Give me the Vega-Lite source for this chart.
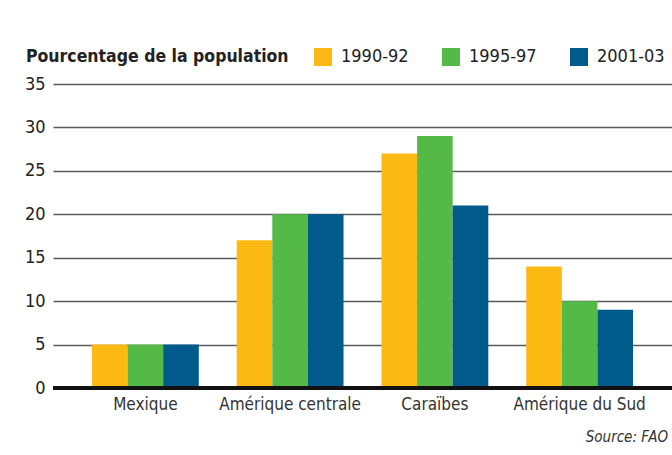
{
  "$schema": "https://vega.github.io/schema/vega-lite/v6.json",
  "autosize": {"type": "none"},
  "width": 619,
  "height": 304,
  "padding": {"left": 53, "top": 84, "right": 0, "bottom": 67},
  "background": "white",
  "config": {
    "font": "DejaVu Sans Condensed",
    "view": {"stroke": null}
  },
  "title": {
    "text": "Source: FAO",
    "orient": "bottom",
    "anchor": "end",
    "frame": "group",
    "fontSize": 15,
    "fontStyle": "italic",
    "fontWeight": "normal",
    "color": "#333333",
    "offset": 18,
    "dx": -4
  },
  "data": {
    "values": [
      {"region": "Mexique", "periode": "1990-92", "pct": 5},
      {"region": "Mexique", "periode": "1995-97", "pct": 5},
      {"region": "Mexique", "periode": "2001-03", "pct": 5},
      {"region": "Amérique centrale", "periode": "1990-92", "pct": 17},
      {"region": "Amérique centrale", "periode": "1995-97", "pct": 20},
      {"region": "Amérique centrale", "periode": "2001-03", "pct": 20},
      {"region": "Caraïbes", "periode": "1990-92", "pct": 27},
      {"region": "Caraïbes", "periode": "1995-97", "pct": 29},
      {"region": "Caraïbes", "periode": "2001-03", "pct": 21},
      {"region": "Amérique du Sud", "periode": "1990-92", "pct": 14},
      {"region": "Amérique du Sud", "periode": "1995-97", "pct": 10},
      {"region": "Amérique du Sud", "periode": "2001-03", "pct": 9}
    ]
  },
  "layer": [
    {
      "mark": {"type": "bar"},
      "encoding": {
        "x": {
          "field": "region",
          "type": "nominal",
          "sort": null,
          "scale": {"paddingInner": 0.262, "paddingOuter": 0.269},
          "axis": {
            "title": null,
            "labelAngle": 0,
            "labelFontSize": 17,
            "labelColor": "#333333",
            "labelPadding": 8,
            "ticks": false,
            "domain": false
          }
        },
        "xOffset": {"field": "periode", "type": "nominal", "scale": {"paddingInner": 0, "paddingOuter": 0}},
        "y": {
          "field": "pct",
          "type": "quantitative",
          "scale": {"domain": [0, 35]},
          "axis": {
            "title": null,
            "values": [0, 5, 10, 15, 20, 25, 30, 35],
            "labelFontSize": 18,
            "labelColor": "#222222",
            "labelPadding": 8,
            "ticks": false,
            "domain": false,
            "grid": true,
            "gridColor": "#5a5a5a",
            "gridWidth": 1.3
          }
        },
        "color": {
          "field": "periode",
          "type": "nominal",
          "scale": {"domain": ["1990-92", "1995-97", "2001-03"], "range": ["#FDB913", "#55B948", "#005A8B"]},
          "legend": {
            "title": "Pourcentage de la population",
            "orient": "none",
            "direction": "horizontal",
            "legendX": -27,
            "legendY": -36,
            "titleOrient": "left",
            "titleFontSize": 17.5,
            "titleFontWeight": "bold",
            "titleColor": "#222222",
            "titleLimit": 500,
            "titlePadding": 25,
            "titleAnchor": "middle",
            "titleBaseline": "middle",
            "symbolType": "square",
            "symbolSize": 324,
            "symbolStrokeWidth": 0,
            "symbolOpacity": 1,
            "labelFontSize": 18,
            "labelColor": "#222222",
            "labelOffset": 9,
            "columnPadding": 33
          }
        }
      }
    },
    {
      "mark": {"type": "rule", "color": "#111111", "strokeWidth": 3},
      "encoding": {"y": {"datum": 0}}
    }
  ]
}
